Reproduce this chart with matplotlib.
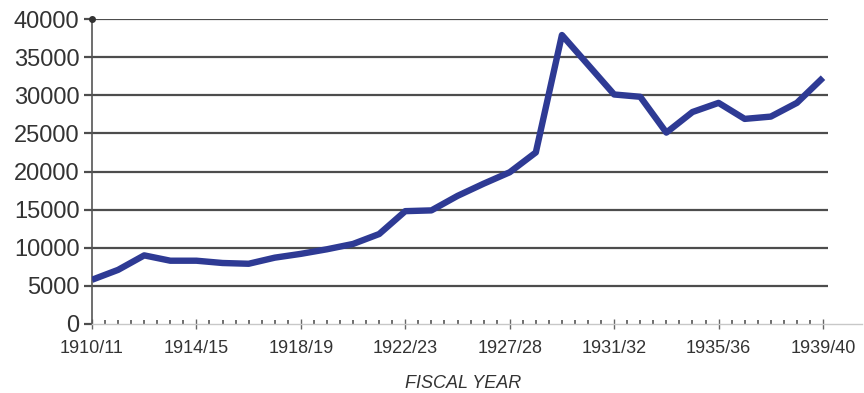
import matplotlib
matplotlib.use("Agg")
import matplotlib.pyplot as plt
import numpy as np

# ============================================================
# DATA
# ============================================================

fiscal_years = [
    "1910/11", "1911/12", "1912/13", "1913/14", "1914/15", "1915/16",
    "1916/17", "1917/18", "1918/19", "1919/20", "1920/21", "1921/22",
    "1922/23", "1923/24", "1924/25", "1926/27", "1927/28", "1928/29",
    "1929/30", "1930/31", "1931/32", "1932/33", "1933/34", "1934/35",
    "1935/36", "1936/37", "1937/38", "1938/39", "1939/40",
]

amounts = [
    5800, 7100, 9000, 8300, 8300, 8000, 7900, 8700, 9200, 9800,
    10500, 11800, 14800, 14900, 16800, 18400, 19900, 22500, 37900, 34000,
    30100, 29800, 25100, 27800, 29000, 26900, 27200, 29000, 32300,
]

y_ticks = [0, 5000, 10000, 15000, 20000, 25000, 30000, 35000, 40000]
label_every = 4

# ============================================================
# PLOT
# ============================================================

plt.rcParams["font.family"] = ["Liberation Sans", "DejaVu Sans"]

fig = plt.figure(figsize=(8.64, 3.93), dpi=100)
ax = fig.add_axes([92 / 864, 69 / 393, 770 / 864, 305 / 393])

x = np.arange(len(fiscal_years))
n_last = len(fiscal_years) - 1

# horizontal rules across the plot area (none at zero)
ax.hlines(y_ticks[1:], 0, n_last + 0.2, colors="#4d4d4d", linewidth=1.6, zorder=1)

ax.plot(x, amounts, color="#2e3a94", linewidth=4.6, solid_joinstyle="round",
        solid_capstyle="butt", zorder=3)

ax.set_xlim(0, n_last * 770 / 731)
ax.set_ylim(0, 40000)

ax.set_yticks(y_ticks)
ax.set_yticklabels([str(v) for v in y_ticks], fontsize=17, color="#333333")
ax.tick_params(axis="y", direction="out", length=6, width=1.6, color="#4d4d4d", pad=3)

ax.set_xticks(x[::label_every])
ax.set_xticklabels(fiscal_years[::label_every], fontsize=13, color="#333333")
ax.set_xticks(np.arange(0, n_last + 0.01, 0.5), minor=True)
ax.tick_params(axis="x", which="major", direction="inout", length=7, width=1.0,
               color="#666666", pad=8)
ax.tick_params(axis="x", which="minor", direction="in", length=3, width=1.2,
               color="#555555")

for side in ("top", "right"):
    ax.spines[side].set_visible(False)
ax.spines["left"].set_color("#555555")
ax.spines["left"].set_linewidth(1.2)
ax.spines["bottom"].set_color("#c8c8c8")
ax.spines["bottom"].set_linewidth(1.0)

# small knob at the top of the value axis
ax.plot([0], [40000], marker="o", markersize=4, color="#333333", clip_on=False, zorder=4)

ax.set_xlabel("FISCAL YEAR", fontsize=13, fontstyle="italic", color="#333333",
              va="center")
ax.xaxis.set_label_coords((463 - 92) / 770, -59 / 305)

fig.savefig("out.png", dpi=100)
plt.close(fig)
